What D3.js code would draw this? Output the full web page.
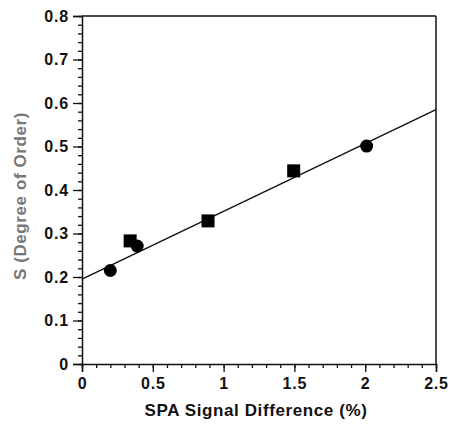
<!DOCTYPE html>
<html>
<head>
<meta charset="utf-8">
<script src="https://cdn.jsdelivr.net/npm/d3@7"></script>
<style>
  body { margin: 0; background: #fff; }
  text { font-family: "Liberation Sans", Arial, sans-serif; font-weight: bold; }
</style>
</head>
<body>
<div id="chart"></div>
<script>
// data
let circleX = [0.2, 0.39, 2.01];
let circleY = [0.215, 0.271, 0.501];
let squareX = [0.34, 0.89, 1.495];
let squareY = [0.283, 0.329, 0.444];
// fitted line endpoints
let fitX = [0, 2.5];
let fitY = [0.195, 0.585];
let xTicks = [0, 0.5, 1, 1.5, 2, 2.5];
let yTicks = [0, 0.1, 0.2, 0.3, 0.4, 0.5, 0.6, 0.7, 0.8];

const width = 451, height = 434;
const margin = { left: 82, right: 15, top: 16, bottom: 70 };
const w = width - margin.left - margin.right;
const h = height - margin.top - margin.bottom;

let svg = d3.select("#chart")
    .append("svg")
    .attr("width", width)
    .attr("height", height)
    .append("g")
    .attr("transform", `translate(${margin.left}, ${margin.top})`);

let x = d3.scaleLinear().domain([0, 2.5]).range([0, w]);
let y = d3.scaleLinear().domain([0, 0.8]).range([h, 0]);

// minor ticks
svg.append("g")
    .attr("transform", `translate(0, ${h})`)
    .call(d3.axisBottom(x).tickValues(d3.range(0, 2.51, 0.1)).tickSize(4).tickFormat(""))
    .call(g => g.select(".domain").remove());
svg.append("g")
    .call(d3.axisLeft(y).tickValues(d3.range(0, 0.801, 0.02)).tickSize(4).tickFormat(""))
    .call(g => g.select(".domain").remove());

// major axes
let xAxis = svg.append("g")
    .attr("transform", `translate(0, ${h})`)
    .call(d3.axisBottom(x).tickValues(xTicks).tickSize(8).tickPadding(6)
        .tickFormat(d => d3.format("")(d)));
let yAxis = svg.append("g")
    .call(d3.axisLeft(y).tickValues(yTicks).tickSize(9).tickPadding(4)
        .tickFormat(d => d3.format("")(d)));

[xAxis, yAxis].forEach(a => {
    a.selectAll("text").style("font-size", "16px").style("letter-spacing", "0.8px").attr("fill", "#111");
    a.selectAll("line, path").attr("stroke", "#111").attr("stroke-width", 1.5);
});
svg.selectAll(".tick line").attr("stroke", "#111").attr("stroke-width", 1.3);

// box top and right
svg.append("line").attr("x1", 0).attr("x2", w).attr("y1", 0).attr("y2", 0)
    .attr("stroke", "#111").attr("stroke-width", 1.5);
svg.append("line").attr("x1", w).attr("x2", w).attr("y1", 0).attr("y2", h)
    .attr("stroke", "#111").attr("stroke-width", 1.5);

// fit line
svg.append("line")
    .attr("x1", x(fitX[0])).attr("y1", y(fitY[0]))
    .attr("x2", x(fitX[1])).attr("y2", y(fitY[1]))
    .attr("stroke", "#111").attr("stroke-width", 1.4);

// markers
svg.selectAll("circle.pt").data(d3.zip(circleX, circleY))
    .enter().append("circle")
    .attr("class", "pt")
    .attr("cx", d => x(d[0]))
    .attr("cy", d => y(d[1]))
    .attr("r", 6.5)
    .attr("fill", "#000");

const sq = 13;
svg.selectAll("rect.pt").data(d3.zip(squareX, squareY))
    .enter().append("rect")
    .attr("class", "pt")
    .attr("x", d => x(d[0]) - sq / 2)
    .attr("y", d => y(d[1]) - sq / 2)
    .attr("width", sq)
    .attr("height", sq)
    .attr("fill", "#000");

// axis labels
svg.append("text")
    .attr("transform", `translate(${w / 2 - 3}, ${h + 52})`)
    .style("text-anchor", "middle")
    .style("font-size", "17px")
    .style("letter-spacing", "0.6px")
    .attr("fill", "#111")
    .text("SPA Signal Difference (%)");

svg.append("text")
    .attr("transform", `translate(-56, ${h / 2 + 6}) rotate(-90)`)
    .style("text-anchor", "middle")
    .style("font-size", "17px")
    .style("letter-spacing", "0.6px")
    .attr("fill", "#777")
    .text("S (Degree of Order)");
</script>
</body>
</html>
